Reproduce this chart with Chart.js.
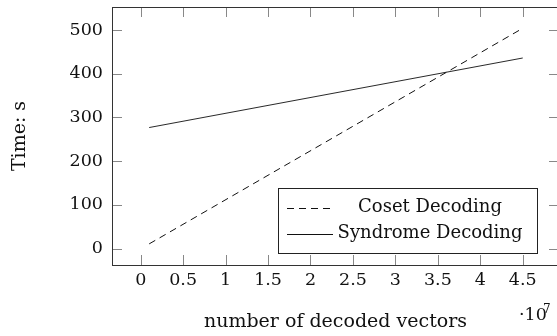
<!DOCTYPE html>
<html>
<head>
<meta charset="utf-8">
<script src="https://cdn.jsdelivr.net/npm/chart.js@4"></script>
<style>
  html, body { margin: 0; padding: 0; background: #fff; overflow: hidden; }
  #wrap { width: 565px; height: 336px; }
</style>
</head>
<body>
<div id="wrap"><canvas id="graph"></canvas></div>
<script>
// decoded vectors (x) and times in seconds
const vectors = [1e6, 4.5e7];
const cosetTimes = [11, 504];
const syndromeTimes = [277, 436];
const seriesNames = ["Coset Decoding", "Syndrome Decoding"];
const xTicks = [0, 0.5, 1, 1.5, 2, 2.5, 3, 3.5, 4, 4.5];
const yTicks = [0, 100, 200, 300, 400, 500];

const FONT = "DejaVu Serif";

function toPoints(xs, ys) {
  return xs.map((x, i) => ({ x: x, y: ys[i] }));
}

// 枠と内向きの目盛り、凡例、·10^7
const pgfDecor = {
  id: "pgfDecor",
  afterDraw(chart) {
    const ctx = chart.ctx;
    const a = chart.chartArea;
    const xs = chart.scales.x;
    const ys = chart.scales.y;
    ctx.save();

    // inward ticks
    ctx.strokeStyle = "#888";
    ctx.lineWidth = 1;
    const tl = 10;
    xTicks.forEach((v) => {
      const px = Math.round(xs.getPixelForValue(v * 1e7)) + 0.5;
      ctx.beginPath();
      ctx.moveTo(px, a.bottom); ctx.lineTo(px, a.bottom - tl);
      ctx.moveTo(px, a.top); ctx.lineTo(px, a.top + tl);
      ctx.stroke();
    });
    yTicks.forEach((v) => {
      const py = Math.round(ys.getPixelForValue(v)) + 0.5;
      ctx.beginPath();
      ctx.moveTo(a.left, py); ctx.lineTo(a.left + tl, py);
      ctx.moveTo(a.right, py); ctx.lineTo(a.right - tl, py);
      ctx.stroke();
    });

    // box
    ctx.strokeStyle = "#333";
    ctx.strokeRect(a.left + 0.5, a.top + 0.5, a.right - a.left, a.bottom - a.top);

    // legend
    const lx = 278, ly = 188, lw = 259, lh = 65;
    ctx.fillStyle = "#fff";
    ctx.fillRect(lx, ly, lw, lh);
    ctx.strokeStyle = "#222";
    ctx.strokeRect(lx + 0.5, ly + 0.5, lw, lh);
    const rows = [207, 233];
    const dashes = [[7, 5], []];
    rows.forEach((ry, i) => {
      ctx.strokeStyle = "#111";
      ctx.lineWidth = 1;
      ctx.setLineDash(dashes[i]);
      ctx.beginPath();
      ctx.moveTo(287, ry + 1.5); ctx.lineTo(333, ry + 1.5);
      ctx.stroke();
      ctx.setLineDash([]);
      ctx.fillStyle = "#111";
      ctx.font = "18px '" + FONT + "'";
      ctx.textAlign = "center";
      ctx.textBaseline = "middle";
      ctx.fillText(seriesNames[i], 430, ry);
    });

    // ·10^7
    ctx.textAlign = "left";
    ctx.textBaseline = "alphabetic";
    ctx.font = "17.5px '" + FONT + "'";
    ctx.fillText("\u00b710", 519, 320);
    ctx.font = "12px '" + FONT + "'";
    ctx.fillText("7", 543, 313);

    ctx.restore();
  },
};

const config = {
  type: "scatter",
  data: {
    datasets: [
      {
        label: seriesNames[0],
        data: toPoints(vectors, cosetTimes),
        showLine: true,
        borderColor: "#111",
        borderWidth: 1,
        borderDash: [7, 5],
        pointRadius: 0,
      },
      {
        label: seriesNames[1],
        data: toPoints(vectors, syndromeTimes),
        showLine: true,
        borderColor: "#111",
        borderWidth: 0.9,
        pointRadius: 0,
      },
    ],
  },
  options: {
    responsive: true,
    maintainAspectRatio: false,
    animation: false,
    layout: { padding: { top: 7, right: 6, left: 0, bottom: 0 } },
    scales: {
      x: {
        type: "linear",
        min: -0.338e7,
        max: 4.927e7,
        grid: { display: false, drawTicks: false },
        border: { display: false },
        afterBuildTicks(scale) {
          scale.ticks = xTicks.map((v) => ({ value: v * 1e7 }));
        },
        ticks: {
          padding: 5,
          color: "#111",
          maxRotation: 0,
          autoSkip: false,
          font: { family: FONT, size: 17.5 },
          callback: (v) => String(Math.round(v / 1e6) / 10),
        },
        title: {
          display: true,
          text: "number of decoded vectors",
          color: "#111",
          font: { family: FONT, size: 19 },
          padding: { top: 0, bottom: 3 },
        },
        afterFit(scale) {
          scale.height = 71;
          scale.paddingLeft = 0;
          scale.paddingRight = 0;
        },
      },
      y: {
        min: -37.3,
        max: 552.6,
        grid: { display: false, drawTicks: false },
        border: { display: false },
        afterBuildTicks(scale) {
          scale.ticks = yTicks.map((v) => ({ value: v }));
        },
        ticks: {
          padding: 9,
          color: "#111",
          font: { family: FONT, size: 17.5 },
        },
        title: {
          display: true,
          text: "Time: s",
          color: "#111",
          font: { family: FONT, size: 19 },
          padding: { top: 9, bottom: 0 },
        },
        afterFit(scale) {
          scale.width = 112;
          scale.paddingTop = 0;
          scale.paddingBottom = 0;
        },
      },
    },
    plugins: {
      legend: { display: false },
      tooltip: { enabled: false },
    },
  },
  plugins: [pgfDecor],
};

new Chart(document.getElementById("graph"), config);
</script>
</body>
</html>
